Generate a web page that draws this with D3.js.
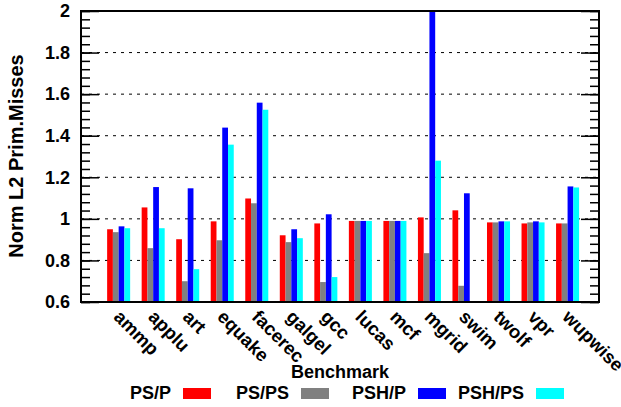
<!DOCTYPE html>
<html>
<head>
<meta charset="utf-8">
<script src="https://cdn.jsdelivr.net/npm/d3@7"></script>
<style>
  body { margin: 0; background: #fff; }
  text { font-family: "Liberation Sans", Arial, Helvetica, sans-serif; font-weight: bold; }
</style>
</head>
<body>
<div id="chart"></div>
<script>
// benchmarks and series values
var benchmarks = ["ammp", "applu", "art", "equake", "facerec", "galgel", "gcc",
  "lucas", "mcf", "mgrid", "swim", "twolf", "vpr", "wupwise"];
var seriesNames = ["PS/P", "PS/PS", "PSH/P", "PSH/PS"];
var seriesColors = ["#ff0000", "#808080", "#0000ff", "#00ffff"];
var psP    = [0.95, 1.055, 0.902, 0.988, 1.098, 0.921, 0.978, 0.99, 0.99, 1.007, 1.041, 0.983, 0.978, 0.978];
var psPS   = [0.936, 0.859, 0.70, 0.897, 1.075, 0.888, 0.696, 0.99, 0.99, 0.835, 0.678, 0.983, 0.983, 0.978];
var pshP   = [0.964, 1.153, 1.147, 1.439, 1.559, 0.95, 1.022, 0.99, 0.99, 2.05, 1.123, 0.988, 0.988, 1.156];
var pshPS  = [0.955, 0.955, 0.758, 1.357, 1.525, 0.907, 0.72, 0.99, 0.99, 1.28, null, 0.988, 0.983, 1.151];
var yTicks = [0.6, 0.8, 1, 1.2, 1.4, 1.6, 1.8, 2];

var series = [psP, psPS, pshP, pshPS];

var svgWidth = 621, svgHeight = 407;
var plotLeft = 81, plotRight = 599, plotTop = 11, plotBottom = 302;

var svg = d3.select("#chart").append("svg")
  .attr("width", svgWidth)
  .attr("height", svgHeight);

var x = d3.scaleLinear().domain([-1.09, 13.91]).range([plotLeft, plotRight]);
var y = d3.scaleLinear().domain([0.6, 2]).range([plotBottom, plotTop]);
var barW = (x(1) - x(0)) / 6;

// grid lines
svg.append("g").selectAll("line")
  .data(yTicks.slice(1, -1))
  .enter().append("line")
  .attr("x1", plotLeft).attr("x2", plotRight)
  .attr("y1", d => y(d)).attr("y2", d => y(d))
  .attr("stroke", "#000")
  .attr("stroke-dasharray", "3,5");

svg.append("clipPath").attr("id", "plotclip")
  .append("rect").attr("x", plotLeft).attr("y", plotTop)
  .attr("width", plotRight - plotLeft).attr("height", plotBottom - plotTop);

// bars
var barGroup = svg.append("g").attr("clip-path", "url(#plotclip)");
series.forEach(function (vals, j) {
  barGroup.append("g").selectAll("rect")
    .data(vals.map((v, i) => ({ i: i, v: v })).filter(d => d.v != null))
    .enter().append("rect")
    .attr("x", d => x(d.i) + (j - 2) * barW)
    .attr("width", barW)
    .attr("y", d => y(d.v))
    .attr("height", d => y(0.6) - y(d.v))
    .attr("fill", seriesColors[j]);
});

// axes: major ticks inward with labels, minor ticks every 0.04
var minorTicks = d3.range(0.6, 2.0001, 0.04);
function tickStyle(g) {
  g.select(".domain").remove();
  g.selectAll("line").attr("stroke", "#000").attr("stroke-width", 1.5);
}
svg.append("g").attr("transform", `translate(${plotLeft},0)`)
  .call(d3.axisLeft(y).tickValues(minorTicks).tickSize(-9).tickFormat(""))
  .call(tickStyle);
svg.append("g").attr("transform", `translate(${plotRight},0)`)
  .call(d3.axisRight(y).tickValues(minorTicks).tickSize(-9).tickFormat(""))
  .call(tickStyle);
svg.append("g").attr("transform", `translate(${plotRight},0)`)
  .call(d3.axisRight(y).tickValues(yTicks).tickSize(-18).tickFormat(""))
  .call(tickStyle);
var yAxis = svg.append("g").attr("transform", `translate(${plotLeft},0)`)
  .call(d3.axisLeft(y).tickValues(yTicks).tickSize(-18).tickFormat(d3.format("")))
  .call(tickStyle);
yAxis.selectAll("text")
  .attr("x", -11)
  .attr("fill", "#000")
  .style("font-size", "18px")
  .style("font-weight", "bold")
  .style("font-family", "'Liberation Sans', Arial, sans-serif");

// frame
svg.append("rect")
  .attr("x", plotLeft).attr("y", plotTop)
  .attr("width", plotRight - plotLeft).attr("height", plotBottom - plotTop)
  .attr("fill", "none").attr("stroke", "#000").attr("stroke-width", 2);

// x labels
svg.append("g").selectAll("text")
  .data(benchmarks)
  .enter().append("text")
  .attr("transform", (d, i) => `translate(${x(i) - 6},${318}) rotate(45)`)
  .attr("font-size", 18.5)
  .text(d => d);

// axis titles
svg.append("text")
  .attr("transform", "translate(23,156) rotate(-90)")
  .attr("text-anchor", "middle")
  .attr("font-size", 20)
  .text("Norm L2 Prim.Misses");

svg.append("text")
  .attr("x", 340).attr("y", 378)
  .attr("text-anchor", "middle")
  .attr("font-size", 18)
  .text("Benchmark");

// legend
var legendRectX = [183, 301, 418, 536];
var legend = svg.append("g").selectAll("g")
  .data(seriesNames)
  .enter().append("g");
legend.append("text")
  .attr("x", (d, i) => legendRectX[i] - 12)
  .attr("y", 399)
  .attr("text-anchor", "end")
  .attr("font-size", 18)
  .text(d => d);
legend.append("rect")
  .attr("x", (d, i) => legendRectX[i])
  .attr("y", 388)
  .attr("width", 28).attr("height", 11)
  .attr("fill", (d, i) => seriesColors[i]);
</script>
</body>
</html>
